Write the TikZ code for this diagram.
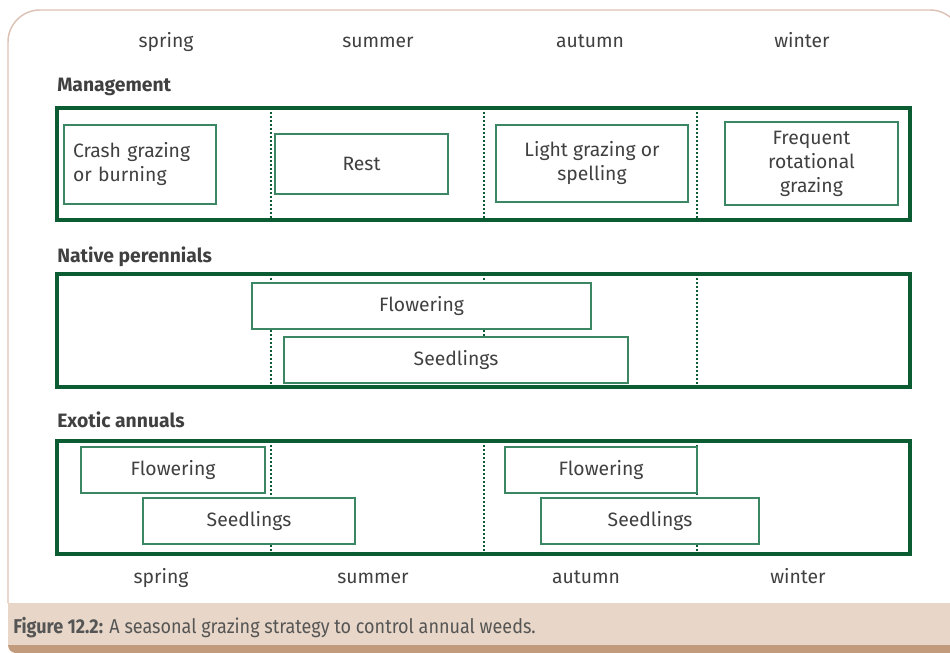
\documentclass[tikz,border=0pt]{standalone}
\usepackage{fontspec}
\setmainfont{Fira Sans}
\newfontfamily\capfont[FakeStretch=0.9]{Fira Sans}

\definecolor{lanegreen}{HTML}{0B5B33}
\definecolor{boxgreen}{HTML}{3B8763}
\definecolor{txtgray}{HTML}{404040}
\definecolor{capgray}{HTML}{555555}
\definecolor{framerose}{HTML}{DCC2B6}
\definecolor{capband}{HTML}{E8D7C8}
\definecolor{capdark}{HTML}{C29A7C}

\tikzset{
  lane/.style={draw=lanegreen, line width=2.3pt},
  divider/.style={lanegreen, line width=2pt, dash pattern=on 1.5pt off 1.5pt},
  stage/.style 2 args={draw=boxgreen, line width=1.3pt, fill=white, inner sep=0pt,
    align=center, minimum width=#1*0.75pt, minimum height=#2*0.75pt},
  season/.style={anchor=base},
  rowlabel/.style={anchor=base west, inner xsep=0pt, font=\fontsize{14.5pt}{18pt}\selectfont\bfseries},
}

\begin{document}
\begin{tikzpicture}[x=0.75pt, y=-0.75pt, text=txtgray,
    font=\fontsize{14.5pt}{18pt}\selectfont]
  \useasboundingbox (0,0) rectangle (950,653);
  \clip (0,0) rectangle (950,653);

  % frame and caption band
  \fill[capdark, rounded corners=6pt] (8,603) rectangle (962,653);
  \fill[capband] (8,603) rectangle (962,645);
  \draw[framerose, line width=1.1pt, rounded corners=24pt] (8,603) -- (8,10) -- (962,10) -- (962,603);

  % seasons
  \node[season] (spring) at (166,47) {spring};
  \node[season] (summer) at (378,47) {summer};
  \node[season] (autumn) at (590,47) {autumn};
  \node[season] (winter) at (802,47) {winter};
  \node[season] (spring2) at (161,583) {spring};
  \node[season] (summer2) at (373,583) {summer};
  \node[season] (autumn2) at (586,583) {autumn};
  \node[season] (winter2) at (798,583) {winter};

  % rows
  \node[rowlabel] (mgmt) at (57,91) {Management};
  \node[rowlabel] (native) at (57,262) {Native perennials};
  \node[rowlabel] (exotic) at (57,427) {Exotic annuals};
  \foreach \ya/\yb in {108/220, 274/387, 441/554}
    \foreach \x in {271, 484, 697}
      \draw[divider] (\x,\ya) -- (\x,\yb);
  \draw[lane] (57,108) rectangle (910,220);
  \draw[lane] (57,274) rectangle (910,387);
  \draw[lane] (57,441) rectangle (910,554);

  % management
  \node[stage={152}{79}, text width=134*0.75pt, align=left] (crash) at (140,164.5) {Crash grazing\\or burning};
  \node[stage={173}{60}] (rest) at (361.5,164) {Rest};
  \node[stage={192}{77}] (light) at (592,163.5) {Light grazing or\\spelling};
  \node[stage={173}{83}] (frequent) at (811.5,163.5) {Frequent\\rotational\\grazing};

  % native perennials
  \node[stage={339}{46}] (natflower) at (421.5,306) {Flowering};
  \node[stage={344}{46}] (natseed) at (456,360) {Seedlings};

  % exotic annuals
  \node[stage={184}{46}] (exflower1) at (173,470) {Flowering};
  \node[stage={212}{46}] (exseed1) at (249,521) {Seedlings};
  \node[stage={192}{46}] (exflower2) at (601,470) {Flowering};
  \node[stage={218}{46}] (exseed2) at (650,521) {Seedlings};

  \node[anchor=base west, inner xsep=0pt, text=capgray, font=\capfont\fontsize{15pt}{18pt}\selectfont] (caption) at (13,633)
    {\textbf{Figure 12.2:} A seasonal grazing strategy to control annual weeds.};
\end{tikzpicture}
\end{document}
